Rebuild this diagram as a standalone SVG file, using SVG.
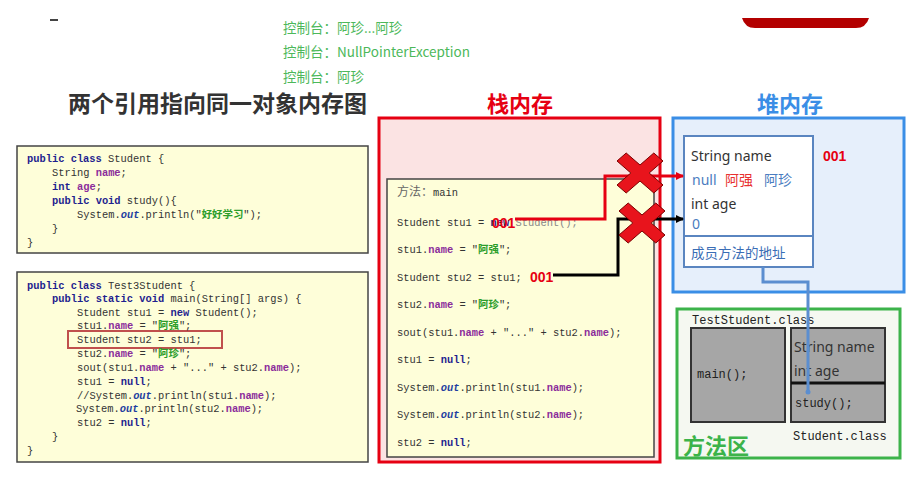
<svg xmlns="http://www.w3.org/2000/svg" width="910" height="483" viewBox="0 0 910 483">
<style>
.cn{font-family:"Noto Sans CJK SC","Noto Sans",sans-serif}
.mono{font-family:"Liberation Mono","DejaVu Sans Mono",monospace;font-size:10.4px;fill:#333}
.cj{font-family:"Noto Sans CJK SC",serif}
.kw{fill:#1f1f8f;font-weight:bold}
.fd{fill:#8b2c9b;font-weight:bold}
.st{fill:#2a9d2a;font-weight:bold}
.it{fill:#1f3fa0;font-style:italic;font-weight:bold}
.con{font-family:"Noto Sans CJK SC","Noto Sans",sans-serif;font-size:13.5px;fill:#4cb85a}
.codebox{fill:#fefed9;stroke:#444;stroke-width:1.5}
.heap{font-family:"Noto Sans","Noto Sans CJK SC",sans-serif;font-size:14px}
.gray{fill:#a6a6a6;stroke:#333;stroke-width:2}
.num{font-family:"Liberation Sans",Arial,sans-serif;font-weight:bold;font-size:14px;fill:#e60012}
.ma{font-family:"Liberation Mono","DejaVu Sans Mono",monospace;font-size:12px;fill:#222}
</style>
<defs>
<marker id="ar" markerWidth="8" markerHeight="8" refX="7" refY="4" orient="auto" markerUnits="userSpaceOnUse"><path d="M0,0 L8,4 L0,8 z" fill="#e60012"/></marker>
<marker id="ab" markerWidth="8" markerHeight="8" refX="7" refY="4" orient="auto" markerUnits="userSpaceOnUse"><path d="M0,0 L8,4 L0,8 z" fill="#000"/></marker>
<polygon id="xmark" points="-23,-12 -13.8,-20 0,-8 13.8,-20 23,-12 9.2,0 23,12 13.8,20 0,8 -13.8,20 -23,12 -9.2,0" fill="#e8141c" stroke="#7a0000" stroke-width="1"/>
</defs>
<rect width="910" height="483" fill="#fff"/>
<line x1="50" y1="20" x2="58" y2="20" stroke="#444" stroke-width="2"/>
<path d="M742,18 H869 Q866,28 856,28 H755 Q745,28 742,18 Z" fill="#b30000"/>

<g id="console">
<text class="con" x="283" y="33">控制台：阿珍...阿珍</text>
<text class="con" x="283" y="57">控制台：NullPointerException</text>
<text class="con" x="283" y="82">控制台：阿珍</text>
</g>

<g id="titles">
<text class="cn" x="68" y="112" font-size="23" font-weight="bold" fill="#333">两个引用指向同一对象内存图</text>
<text class="cn" x="520" y="112" font-size="22" font-weight="bold" fill="#e60012" text-anchor="middle">栈内存</text>
<text class="cn" x="790" y="112" font-size="22" font-weight="bold" fill="#3a8ee6" text-anchor="middle">堆内存</text>
</g>

<g id="code-student">
<rect class="codebox" x="17" y="146" width="351" height="107"/>
<text class="mono" y="162"><tspan x="27" class="kw">public class</tspan> Student {</text>
<text class="mono" y="176"><tspan x="52">String </tspan><tspan class="fd">name</tspan>;</text>
<text class="mono" y="190"><tspan x="52" class="kw">int</tspan> <tspan class="fd">age</tspan>;</text>
<text class="mono" y="204"><tspan x="52" class="kw">public void</tspan> study(){</text>
<text class="mono" y="218"><tspan x="77">System.</tspan><tspan class="it">out</tspan>.println("<tspan class="st cj">好好学习</tspan>");</text>
<text class="mono" x="52" y="232">}</text>
<text class="mono" x="27" y="246">}</text>
</g>

<g id="code-test">
<rect class="codebox" x="17" y="272" width="351" height="190"/>
<rect x="68" y="331" width="154" height="17" fill="none" stroke="#c0504d" stroke-width="2"/>
<text class="mono" y="289"><tspan x="27" class="kw">public class</tspan> Test3Student {</text>
<text class="mono" y="302"><tspan x="52" class="kw">public static void</tspan> main(String[] args) {</text>
<text class="mono" y="316"><tspan x="77">Student stu1 = </tspan><tspan class="kw">new</tspan> Student();</text>
<text class="mono" y="329"><tspan x="77">stu1.</tspan><tspan class="fd">name</tspan> = "<tspan class="st cj">阿强</tspan>";</text>
<text class="mono" x="77" y="343">Student stu2 = stu1;</text>
<text class="mono" y="357"><tspan x="77">stu2.</tspan><tspan class="fd">name</tspan> = "<tspan class="st cj">阿珍</tspan>";</text>
<text class="mono" y="371"><tspan x="77">sout(stu1.</tspan><tspan class="fd">name</tspan> + "..." + stu2.<tspan class="fd">name</tspan>);</text>
<text class="mono" y="385"><tspan x="77">stu1 = </tspan><tspan class="kw">null</tspan>;</text>
<text class="mono" y="399"><tspan x="77">//System.</tspan><tspan class="it">out</tspan>.println(stu1.<tspan class="fd">name</tspan>);</text>
<text class="mono" y="412"><tspan x="76">System.</tspan><tspan class="it">out</tspan>.println(stu2.<tspan class="fd">name</tspan>);</text>
<text class="mono" y="426"><tspan x="77">stu2 = </tspan><tspan class="kw">null</tspan>;</text>
<text class="mono" x="52" y="440">}</text>
<text class="mono" x="27" y="454">}</text>
</g>

<g id="stack">
<rect x="379" y="118" width="281" height="344" fill="#fbe3e3" stroke="#e60012" stroke-width="3"/>
<rect x="387" y="179" width="267" height="278" fill="#fefed9" stroke="#444" stroke-width="1.5"/>
<text class="mono" y="196"><tspan x="397" class="cj" font-size="12" fill="#666">方法：</tspan>main</text>
<text class="mono" y="226"><tspan x="397">Student stu1 = </tspan><tspan class="kw">new</tspan><tspan fill="#888"> Student();</tspan></text>
<text class="mono" y="253"><tspan x="397">stu1.</tspan><tspan class="fd">name</tspan> = "<tspan class="st cj">阿强</tspan>";</text>
<text class="mono" x="397" y="281">Student stu2 = stu1;</text>
<text class="mono" y="308"><tspan x="397">stu2.</tspan><tspan class="fd">name</tspan> = "<tspan class="st cj">阿珍</tspan>";</text>
<text class="mono" y="336"><tspan x="397">sout(stu1.</tspan><tspan class="fd">name</tspan> + "..." + stu2.<tspan class="fd">name</tspan>);</text>
<text class="mono" y="363"><tspan x="397">stu1 = </tspan><tspan class="kw">null</tspan>;</text>
<text class="mono" y="391"><tspan x="397">System.</tspan><tspan class="it">out</tspan>.println(stu1.<tspan class="fd">name</tspan>);</text>
<text class="mono" y="418"><tspan x="397">System.</tspan><tspan class="it">out</tspan>.println(stu2.<tspan class="fd">name</tspan>);</text>
<text class="mono" y="446"><tspan x="397">stu2 = </tspan><tspan class="kw">null</tspan>;</text>
<text class="num" x="492" y="228">001</text>
<text class="num" x="530" y="282">001</text>
</g>

<g id="heap">
<rect x="673" y="118" width="231" height="174" fill="#e6effb" stroke="#3a8ee6" stroke-width="3"/>
<rect x="684" y="136" width="129" height="131" fill="#fff" stroke="#5a85c0" stroke-width="2"/>
<line x1="684" y1="236" x2="813" y2="236" stroke="#5a85c0" stroke-width="2"/>
<text class="heap" x="691" y="161" fill="#333">String name</text>
<text class="heap" y="185"><tspan x="692" fill="#4a7cc0">null</tspan><tspan x="725" fill="#e83030" class="cn">阿强</tspan><tspan x="764" fill="#4a7cc0" class="cn">阿珍</tspan></text>
<text class="heap" x="691" y="209" fill="#333">int age</text>
<text class="heap" x="692" y="229" fill="#4a7cc0">0</text>
<text class="cn" x="691" y="258" font-size="13.5" fill="#3a6db5">成员方法的地址</text>
<text class="num" x="823" y="161">001</text>
</g>

<g id="method-area">
<rect x="677" y="309" width="223" height="149" fill="#f5f8f1" stroke="#3cb34a" stroke-width="3"/>
<text class="ma" x="692" y="324">TestStudent.class</text>
<rect class="gray" x="691" y="328" width="94" height="94"/>
<text class="ma" x="697" y="378">main();</text>
<rect class="gray" x="791" y="328" width="94" height="94"/>
<line x1="791" y1="383" x2="885" y2="383" stroke="#111" stroke-width="3"/>
<text class="heap" x="794" y="352" fill="#333" font-size="14.5">String name</text>
<text class="heap" x="794" y="376" fill="#333" font-size="14.5">int age</text>
<text class="ma" x="795" y="407">study();</text>
<text class="ma" x="793" y="440">Student.class</text>
<text class="cn" x="683" y="454" font-size="22" font-weight="bold" fill="#3cb34a">方法区</text>
</g>

<g id="connectors" fill="none">
<path d="M515,219 H605 V176 H683" stroke="#e60012" stroke-width="3" marker-end="url(#ar)"/>
<path d="M553,275 H618 V219 H683" stroke="#000" stroke-width="3" marker-end="url(#ab)"/>
<path d="M763,267 V282 H808 V392" stroke="#5b8ed0" stroke-width="3"/>
<circle cx="808" cy="392" r="2.5" fill="#5b8ed0"/>
<use href="#xmark" x="640" y="173"/>
<use href="#xmark" x="642" y="223"/>
</g>
</svg>
